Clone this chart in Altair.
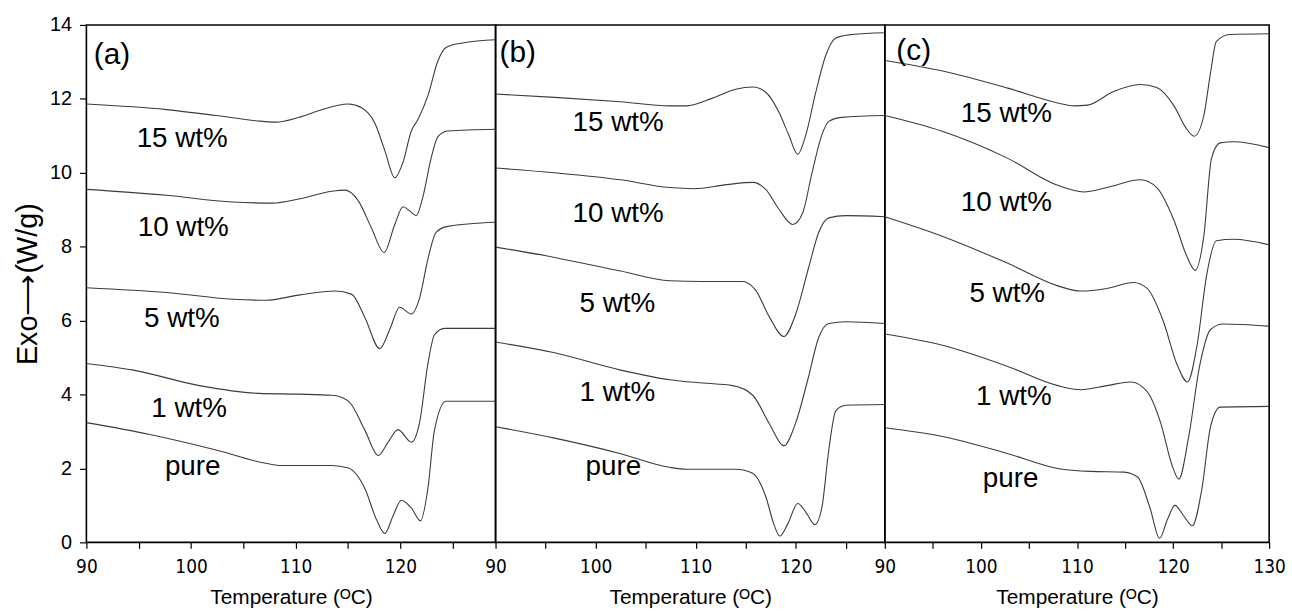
import altair as alt
import pandas as pd

# ---------------- data ----------------
# Panel (a)
a15_t = [90, 97.65, 102.39, 106.19, 108.08, 110.30, 112.19, 115.04, 116.30, 117.57, 118.52, 119.47, 120.26, 121.05, 121.68, 122.63, 123.58, 124.37, 126.11, 129.11]
a15_q = [11.86, 11.71, 11.55, 11.41, 11.37, 11.50, 11.68, 11.86, 11.76, 11.34, 10.60, 9.87, 10.29, 11.13, 11.44, 12.08, 13.02, 13.39, 13.52, 13.60]
a10_t = [90, 97.65, 103.97, 107.77, 110.30, 113.46, 114.72, 115.99, 117.25, 118.45, 119.47, 120.26, 120.89, 121.52, 122.15, 122.94, 123.58, 124.53, 129.11]
a10_q = [9.55, 9.39, 9.21, 9.18, 9.29, 9.50, 9.53, 9.24, 8.50, 7.84, 8.60, 9.08, 8.97, 8.84, 9.34, 10.39, 10.97, 11.13, 11.18]
a5_t = [90, 97.65, 103.97, 107.14, 110.30, 113.77, 115.36, 116.62, 118.04, 118.99, 119.94, 121.05, 121.84, 122.63, 123.42, 124.53, 129.11]
a5_q = [6.89, 6.76, 6.58, 6.55, 6.69, 6.80, 6.71, 6.08, 5.24, 5.76, 6.36, 6.18, 6.61, 7.66, 8.39, 8.55, 8.66]
a1_t = [90, 94.49, 100.81, 106.50, 110.30, 113.46, 115.04, 116.62, 117.89, 118.83, 119.78, 121.05, 121.84, 122.63, 123.26, 124.21, 129.11]
a1_q = [4.84, 4.66, 4.24, 4.03, 4.01, 3.98, 3.82, 3.03, 2.35, 2.71, 3.05, 2.71, 3.24, 4.82, 5.61, 5.79, 5.79]
ap_t = [90, 96.07, 102.39, 107.14, 108.72, 113.46, 115.04, 116.62, 117.73, 118.52, 119.31, 120.10, 121.05, 121.93, 122.63, 123.26, 124.37, 129.11]
ap_q = [3.24, 2.92, 2.50, 2.14, 2.08, 2.08, 2.01, 1.45, 0.61, 0.24, 0.72, 1.14, 0.93, 0.58, 1.45, 3.03, 3.82, 3.82]

# Panel (b)
b15_t = [90, 95.9, 102.5, 107.4, 109.1, 111.7, 114.0, 115.7, 117.0, 118.3, 119.3, 120.2, 121.0, 122.0, 123.0, 124.0, 125.6, 128.9]
b15_q = [12.13, 12.04, 11.92, 11.81, 11.81, 12.02, 12.26, 12.32, 12.18, 11.65, 11.02, 10.50, 11.02, 12.18, 13.18, 13.65, 13.74, 13.79]
b10_t = [90, 95.9, 102.5, 107.4, 109.8, 113.1, 115.7, 117.0, 118.3, 119.7, 120.7, 121.6, 122.6, 123.3, 124.6, 128.9]
b10_q = [10.13, 10.00, 9.81, 9.60, 9.57, 9.68, 9.74, 9.55, 9.02, 8.60, 8.92, 9.97, 11.02, 11.39, 11.50, 11.55]
b5_t = [90, 95.9, 102.5, 107.4, 110.7, 114.7, 116.0, 117.4, 118.8, 120.0, 121.3, 122.3, 123.3, 125.0, 128.9]
b5_q = [7.99, 7.71, 7.34, 7.08, 7.06, 7.06, 6.82, 6.08, 5.57, 6.18, 7.45, 8.39, 8.78, 8.84, 8.81]
b1_t = [90, 95.9, 102.5, 107.4, 110.7, 113.7, 115.7, 117.4, 118.8, 120.0, 121.2, 122.3, 123.3, 125.0, 128.9]
b1_q = [5.42, 5.13, 4.66, 4.40, 4.31, 4.24, 3.98, 3.19, 2.61, 3.24, 4.40, 5.55, 5.92, 5.97, 5.92]
bp_t = [90, 95.9, 102.5, 107.4, 109.1, 114.0, 115.7, 117.0, 117.8, 118.4, 119.2, 120.2, 121.0, 121.9, 122.6, 123.3, 124.0, 125.0, 128.9]
bp_q = [3.13, 2.82, 2.40, 2.03, 1.98, 1.98, 1.87, 1.24, 0.50, 0.17, 0.50, 1.05, 0.82, 0.48, 0.93, 2.50, 3.56, 3.71, 3.73]

# Panel (c)
c15_t = [90, 95.9, 102.8, 108.0, 109.7, 111.1, 113.8, 116.6, 118.3, 120.1, 121.3, 122.2, 123.2, 123.9, 124.5, 125.9, 130]
c15_q = [13.04, 12.76, 12.29, 11.89, 11.81, 11.83, 12.20, 12.39, 12.31, 11.81, 11.23, 10.99, 11.55, 12.71, 13.55, 13.74, 13.76]
c10_t = [90, 95.9, 102.8, 108.0, 110.7, 113.1, 116.6, 118.3, 120.1, 121.4, 122.3, 123.2, 124.0, 124.9, 126.3, 130]
c10_q = [11.55, 11.13, 10.39, 9.66, 9.48, 9.60, 9.81, 9.60, 8.71, 7.76, 7.36, 8.29, 10.39, 10.81, 10.84, 10.68]
c5_t = [90, 95.9, 102.8, 108.0, 110.4, 113.1, 115.9, 117.3, 119.0, 120.4, 121.5, 122.5, 123.5, 124.5, 126.3, 130]
c5_q = [8.81, 8.29, 7.55, 6.94, 6.80, 6.87, 7.03, 6.87, 5.97, 4.82, 4.34, 5.34, 7.24, 8.16, 8.20, 8.05]
c1_t = [90, 95.9, 102.8, 108.0, 110.4, 113.1, 115.6, 117.3, 118.7, 119.9, 120.6, 121.6, 122.8, 123.9, 125.2, 130]
c1_q = [5.64, 5.34, 4.76, 4.24, 4.13, 4.24, 4.34, 4.08, 3.24, 2.08, 1.71, 2.82, 4.82, 5.76, 5.91, 5.85]
cp_t = [90, 95.9, 102.8, 108.0, 111.4, 114.9, 116.3, 117.6, 118.6, 119.4, 120.2, 121.1, 122.0, 123.0, 123.9, 124.9, 130]
cp_q = [3.10, 2.87, 2.40, 2.00, 1.92, 1.90, 1.77, 0.93, 0.11, 0.61, 1.00, 0.72, 0.45, 1.45, 3.13, 3.66, 3.68]

series_names = ["15 wt%", "10 wt%", "5 wt%", "1 wt%", "pure"]
panel_tags = ["(a)", "(b)", "(c)"]

# label anchor positions (left edge x, centre y) per panel
a_lab_t = [94.8, 94.9, 95.5, 96.2, 97.5]
a_lab_q = [10.92, 8.50, 6.03, 3.61, 2.03]
b_lab_t = [97.7, 97.7, 98.4, 98.4, 99.0]
b_lab_q = [11.34, 8.89, 6.45, 4.03, 2.03]
c_lab_t = [97.9, 97.9, 98.8, 99.5, 100.2]
c_lab_q = [11.60, 9.18, 6.71, 3.92, 1.71]
tag_t = [90.7, 90.4, 91.2]
tag_q = [13.18, 13.23, 13.29]

x_domains = [[90, 129.1], [90, 128.9], [90, 130]]
panel_widths = [412, 392, 387]
PLOT_H = 521

FONT = "Liberation Sans"
TICKFONT = "Liberation Sans Narrow, DejaVu Sans Condensed, Liberation Sans"


def curves_df(pairs):
    rows = []
    for name, (ts, qs) in zip(series_names, pairs):
        for t, q in zip(ts, qs):
            rows.append({"T": t, "Q": q, "s": name})
    return pd.DataFrame(rows)


def panel(i, pairs, lab_t, lab_q):
    dom = x_domains[i]
    ticks = [v for v in range(90, 131, 5) if dom[0] <= v <= dom[1]]
    xaxis = alt.Axis(
        values=ticks,
        labelExpr="datum.value % 10 == 0 ? datum.label : ''",
        format="d",
        tickSize=6,
        tickColor="black",
        tickWidth=1.2,
        labelFont=TICKFONT,
        labelFontSize=19,
        labelColor="black",
        labelPadding=9,
        labelFlush=False,
        labelOverlap=False,
        labelBound=False,
        title="Temperature (ᴼC)",
        titleFont=FONT,
        titleFontSize=21,
        titleFontWeight="normal",
        titleColor="black",
        titlePadding=11,
        domain=False,
        grid=False,
    )
    if i == 0:
        yaxis = alt.Axis(
            values=list(range(0, 15)),
            labelExpr="datum.value % 2 == 0 ? datum.label : ''",
            tickSize=7,
            tickColor="black",
            tickWidth=1.2,
            labelFont=FONT,
            labelFontSize=20,
            labelColor="black",
            labelPadding=8,
            title="Exo⟶(W/g)",
            titleFont=FONT,
            titleFontSize=29,
            titleFontWeight="normal",
            titleColor="black",
            titlePadding=7,
            domain=False,
            grid=False,
        )
    else:
        yaxis = None

    xs = alt.Scale(domain=dom, nice=False, zero=False)
    ys = alt.Scale(domain=[0, 14], nice=False, zero=False)

    df = curves_df(pairs)
    lines = alt.Chart(df).mark_line(
        color="#3c3c3c", strokeWidth=1.1, interpolate="monotone", clip=True
    ).encode(
        x=alt.X("T:Q", scale=xs, axis=xaxis),
        y=alt.Y("Q:Q", scale=ys, axis=yaxis),
        detail="s:N",
    )

    lab_df = pd.DataFrame({"T": lab_t, "Q": lab_q, "txt": series_names})
    labels = alt.Chart(lab_df).mark_text(
        align="left", baseline="middle", font=FONT, fontSize=28, color="black"
    ).encode(x=alt.X("T:Q", scale=xs), y=alt.Y("Q:Q", scale=ys), text="txt:N")

    tag_df = pd.DataFrame({"T": [tag_t[i]], "Q": [tag_q[i]], "txt": [panel_tags[i]]})
    tag = alt.Chart(tag_df).mark_text(
        align="left", baseline="middle", font=FONT, fontSize=30, color="black"
    ).encode(x=alt.X("T:Q", scale=xs), y=alt.Y("Q:Q", scale=ys), text="txt:N")

    return alt.layer(lines, labels, tag).properties(width=panel_widths[i], height=PLOT_H)


pa = panel(0, [(a15_t, a15_q), (a10_t, a10_q), (a5_t, a5_q), (a1_t, a1_q), (ap_t, ap_q)], a_lab_t, a_lab_q)
pb = panel(1, [(b15_t, b15_q), (b10_t, b10_q), (b5_t, b5_q), (b1_t, b1_q), (bp_t, bp_q)], b_lab_t, b_lab_q)
pc = panel(2, [(c15_t, c15_q), (c10_t, c10_q), (c5_t, c5_q), (c1_t, c1_q), (cp_t, cp_q)], c_lab_t, c_lab_q)

chart = alt.hconcat(pa, pb, pc, spacing=0, bounds="flush").properties(
    padding={"left": 12, "top": 12, "right": 5, "bottom": 0},
    background="white",
).configure_view(stroke="black", strokeWidth=1.6)

chart.save("out.html", embed_options={"renderer": "svg", "actions": False})
